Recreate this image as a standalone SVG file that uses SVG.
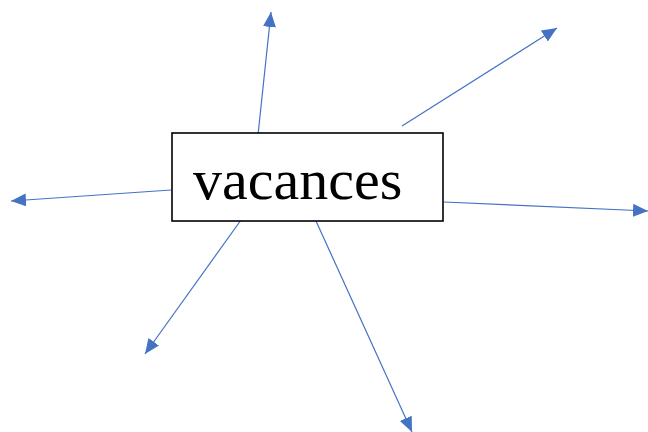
<svg xmlns="http://www.w3.org/2000/svg" width="648" height="432" viewBox="0 0 648 432">
<style>
.c{stroke:#4472C4;stroke-width:1.2;fill:none;marker-end:url(#ah)}
.box{fill:#fff;stroke:#000;stroke-width:1.6}
.t{font-family:"Liberation Serif","Times New Roman",serif;font-size:58px;fill:#000}
</style>
<defs>
<marker id="ah" markerUnits="userSpaceOnUse" markerWidth="16" markerHeight="14" refX="15" refY="6.5" orient="auto">
<path d="M0,0 L15,6.5 L0,13 Z" fill="#4472C4"/>
</marker>
</defs>
<rect width="648" height="432" fill="#fff"/>
<g id="connectors">
<line class="c" x1="258" y1="135" x2="271" y2="12"/>
<line class="c" x1="402" y1="126" x2="557" y2="28"/>
<line class="c" x1="171" y1="190" x2="11" y2="201"/>
<line class="c" x1="444" y1="202" x2="648" y2="211"/>
<line class="c" x1="241" y1="220" x2="145" y2="354"/>
<line class="c" x1="316" y1="221" x2="412" y2="432"/>
</g>
<g id="vacances">
<rect class="box" x="172" y="133" width="271" height="88"/>
<text class="t" x="193" y="199">vacances</text>
</g>
</svg>
